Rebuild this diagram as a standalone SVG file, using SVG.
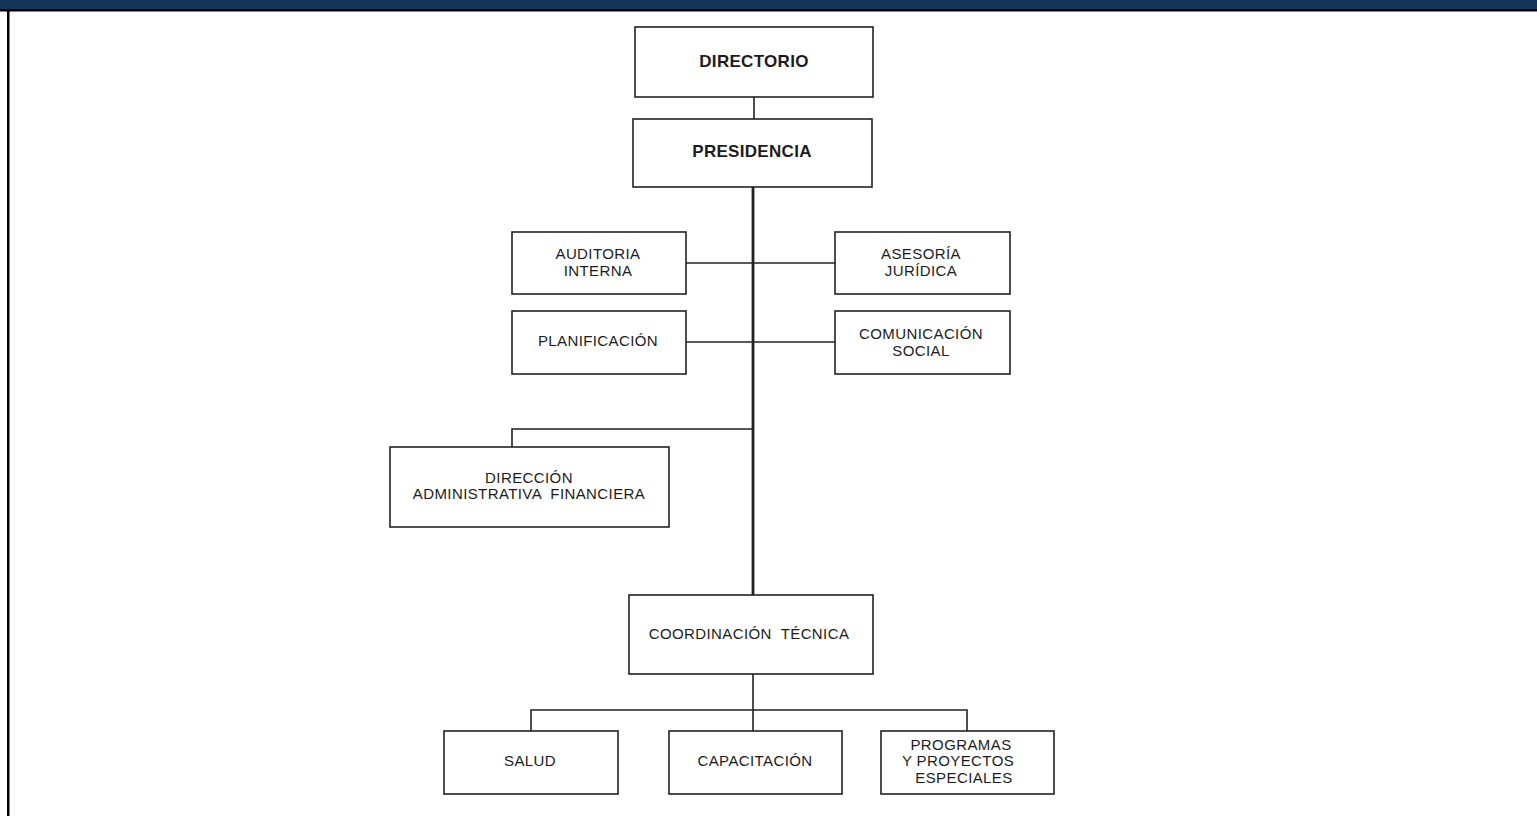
<svg xmlns="http://www.w3.org/2000/svg" width="1537" height="816" viewBox="0 0 1537 816">
<style>
.box{fill:#fff;stroke:#222;stroke-width:1.6}
.t{font-family:"Liberation Sans",Arial,sans-serif;font-size:15px;letter-spacing:0.4px;fill:#1c1c1c;text-anchor:middle;white-space:pre}
.b{font-weight:bold;font-size:17px;letter-spacing:0.3px}
.ln{stroke:#222;stroke-width:1.6;fill:none}
.trunk{stroke:#222;stroke-width:2.8;fill:none}
</style>
<rect x="0" y="0" width="1537" height="816" fill="#fff"/>
<rect x="0" y="0" width="1537" height="9" fill="#16355a"/>
<rect x="0" y="9" width="1537" height="2.5" fill="#000"/>
<rect x="7" y="9" width="2.5" height="807" fill="#000"/>
<g id="connectors">
<line class="ln" x1="754" y1="97" x2="754" y2="119"/>
<line class="trunk" x1="753" y1="187" x2="753" y2="595"/>
<line class="ln" x1="686" y1="263" x2="835" y2="263"/>
<line class="ln" x1="686" y1="342" x2="835" y2="342"/>
<polyline class="ln" points="753,429 512,429 512,447"/>
<line class="ln" x1="753" y1="674" x2="753" y2="731"/>
<polyline class="ln" points="531,731 531,710 967,710 967,731"/>
</g>
<g id="directorio"><rect class="box" x="635" y="27" width="238" height="70"/><text class="t b" x="754" y="67">DIRECTORIO</text></g>
<g id="presidencia"><rect class="box" x="633" y="119" width="239" height="68"/><text class="t b" x="752" y="157">PRESIDENCIA</text></g>
<g id="auditoria"><rect class="box" x="512" y="232" width="174" height="62"/><text class="t" x="598" y="259">AUDITORIA</text><text class="t" x="598" y="276">INTERNA</text></g>
<g id="asesoria"><rect class="box" x="835" y="232" width="175" height="62"/><text class="t" x="921" y="259">ASESORÍA</text><text class="t" x="921" y="276">JURÍDICA</text></g>
<g id="planificacion"><rect class="box" x="512" y="311" width="174" height="63"/><text class="t" x="598" y="346">PLANIFICACIÓN</text></g>
<g id="comunicacion"><rect class="box" x="835" y="311" width="175" height="63"/><text class="t" x="921" y="339">COMUNICACIÓN</text><text class="t" x="921" y="356">SOCIAL</text></g>
<g id="daf"><rect class="box" x="390" y="447" width="279" height="80"/><text class="t" x="529" y="483">DIRECCIÓN</text><text class="t" x="529" y="499">ADMINISTRATIVA  FINANCIERA</text></g>
<g id="coordinacion"><rect class="box" x="629" y="595" width="244" height="79"/><text class="t" x="749" y="639">COORDINACIÓN  TÉCNICA</text></g>
<g id="salud"><rect class="box" x="444" y="731" width="174" height="63"/><text class="t" x="530" y="766">SALUD</text></g>
<g id="capacitacion"><rect class="box" x="669" y="731" width="173" height="63"/><text class="t" x="755" y="766">CAPACITACIÓN</text></g>
<g id="programas"><rect class="box" x="881" y="731" width="173" height="63"/><text class="t" x="961" y="750">PROGRAMAS</text><text class="t" x="958" y="766">Y PROYECTOS</text><text class="t" x="964" y="783">ESPECIALES</text></g>
</svg>
